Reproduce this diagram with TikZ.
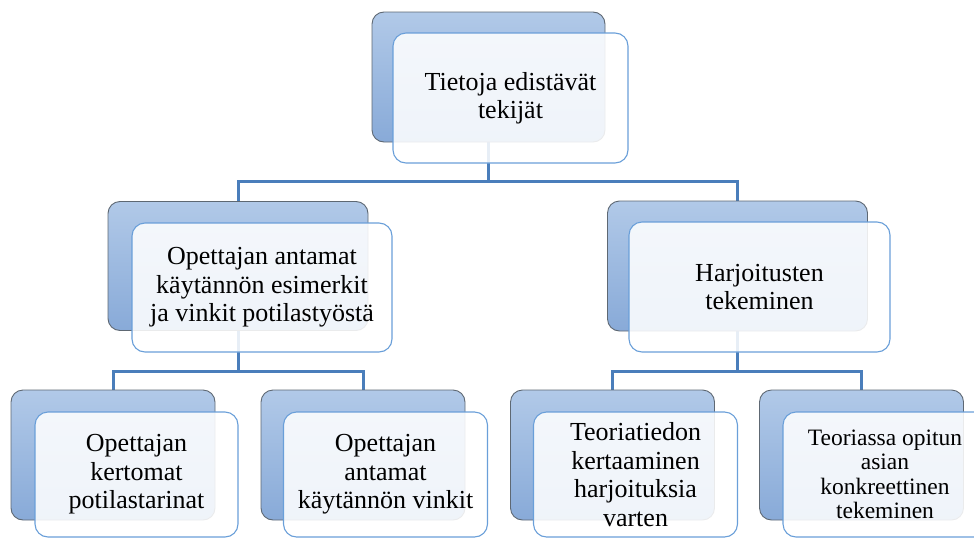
\documentclass[tikz,border=0pt]{standalone}
\usepackage{fontspec}
\setmainfont{Liberation Serif}
\usetikzlibrary{backgrounds}

\definecolor{backtop}{HTML}{B1C9E8}
\definecolor{backbot}{HTML}{88AAD8}
\definecolor{backline}{HTML}{5E6873}
\definecolor{frontline}{HTML}{6A9FD9}
\definecolor{linkblue}{HTML}{4A7EBB}

\tikzset{
  backbox/.style={draw=backline, line width=0.9pt, rounded corners=12pt,
    top color=backtop, bottom color=backbot, inner sep=0pt},
  frontbox/.style={draw=frontline, line width=1.1pt, rounded corners=13pt,
    fill=white, fill opacity=0.87, text opacity=1, inner sep=0pt,
    align=center, font=\fontsize{26}{28.5}\selectfont},
  smalltext/.style={font=\fontsize{23.5}{24.5}\selectfont},
  link/.style={draw=linkblue, line width=3pt},
}

\begin{document}
\begin{tikzpicture}[x=1pt,y=-1pt]
\path[use as bounding box] (0,0) rectangle (974,538);
\clip (0,0) rectangle (974,538);

% top level
\node[backbox, minimum width=233pt, minimum height=130pt] (topB) at (488.5,77) {};
\node[frontbox, minimum width=235pt, minimum height=130pt] (topF) at (510.5,98)
  {Tietoja edistävät\\tekijät};

% second level
\node[backbox, minimum width=260pt, minimum height=129pt] (leftB) at (238,266) {};
\node[frontbox, minimum width=260pt, minimum height=129pt] (leftF) at (262,287.5)
  {Opettajan antamat\\käytännön esimerkit\\ja vinkit potilastyöstä};

\node[backbox, minimum width=260pt, minimum height=130pt] (rightB) at (737.5,266) {};
\node[frontbox, minimum width=261pt, minimum height=130pt] (rightF) at (759.5,287)
  {Harjoitusten\\tekeminen};

% third level
\node[backbox, minimum width=204pt, minimum height=130pt] (b1B) at (113,455) {};
\node[frontbox, minimum width=203pt, minimum height=125pt] (b1F) at (136.5,474.5)
  {Opettajan\\kertomat\\potilastarinat};

\node[backbox, minimum width=204pt, minimum height=130pt] (b2B) at (363,455) {};
\node[frontbox, minimum width=204pt, minimum height=125pt] (b2F) at (385.5,474.5)
  {Opettajan\\antamat\\käytännön vinkit};

\node[backbox, minimum width=204pt, minimum height=130pt] (b3B) at (612.5,455) {};
\node[frontbox, minimum width=204pt, minimum height=125pt] (b3F) at (635.5,474.5)
  {Teoriatiedon\\kertaaminen\\harjoituksia\\varten};

\node[backbox, minimum width=204pt, minimum height=130pt] (b4B) at (861.5,455) {};
\node[frontbox, smalltext, minimum width=204pt, minimum height=125pt] (b4F) at (885,474.5)
  {Teoriassa opitun\\asian\\konkreettinen\\tekeminen};

% junctions of the connector bars
\coordinate (j0) at (488.5,181.5);
\coordinate (j1) at (238,371);
\coordinate (j2) at (737.5,371);

\begin{scope}[on background layer]
  \draw[link] (topB.south) -- (j0);
  \draw[link] (leftB.north) |- (j0) -| (rightB.north);
  \draw[link] (leftB.south) -- (j1);
  \draw[link] (b1B.north) |- (j1) -| (b2B.north);
  \draw[link] (rightB.south) -- (j2);
  \draw[link] (b3B.north) |- (j2) -| (b4B.north);
\end{scope}
\end{tikzpicture}
\end{document}
